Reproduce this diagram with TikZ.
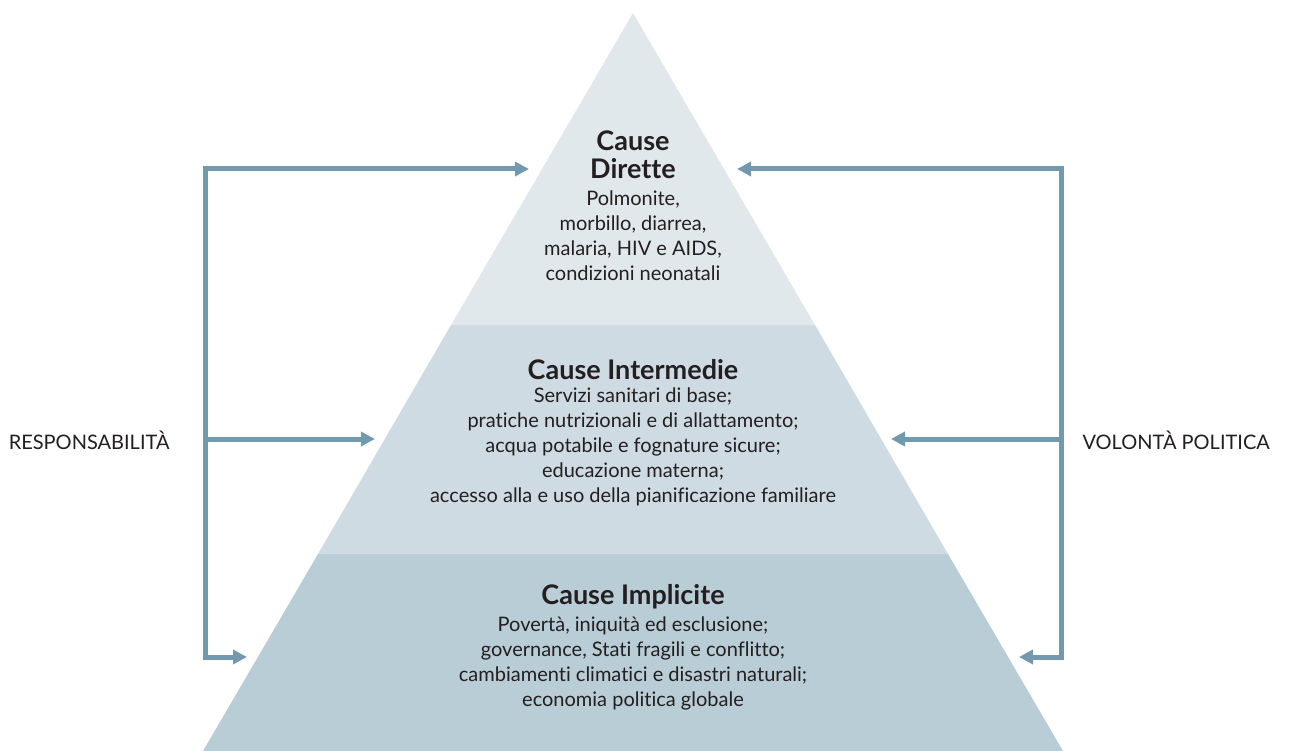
\documentclass[tikz,border=0pt]{standalone}
\usepackage{fontspec}
\setmainfont{Lato}[Ligatures=NoCommon]
\usepackage{tikz}
\usetikzlibrary{arrows.meta,positioning}
\usepackage{xcolor}
\definecolor{tiertop}{HTML}{E1E8EC}
\definecolor{tiermid}{HTML}{CEDBE2}
\definecolor{tierlow}{HTML}{B9CDD6}
\definecolor{linkblue}{HTML}{7399AE}
\definecolor{inkdark}{HTML}{231F20}

\begin{document}
\begin{tikzpicture}[x=1pt,y=-1pt,
  link/.style={-{Triangle[length=14pt,width=14pt]}, line width=5pt, linkblue, line join=miter},
  tiertitle/.style={align=center, text=inkdark, font=\fontsize{27}{28}\selectfont\bfseries},
  tierbody/.style={align=center, text=inkdark, font=\fontsize{20}{25}\selectfont},
  sidelabel/.style={text=inkdark, font=\fontsize{20}{22}\selectfont}]
  \useasboundingbox (0,0) rectangle (1293,751);
  % pyramid tiers
  \fill[tierlow] (203,751) -- (318,554) -- (948,554) -- (1063,751) -- cycle;
  \fill[tiermid] (318,554) -- (451,325) -- (815,325) -- (948,554) -- cycle;
  \fill[tiertop] (451,325) -- (633,13) -- (815,325) -- cycle;

  \node[tiertitle] (directtitle) at (633,155) {Cause\\Dirette};
  \node[tierbody] (directbody) at (633,236) {Polmonite,\\morbillo, diarrea,\\malaria, HIV e AIDS,\\condizioni neonatali};
  \node[tiertitle] (midtitle) at (633,370) {Cause Intermedie};
  \node[tierbody] (midbody) at (633,447) {Servizi sanitari di base;\\pratiche nutrizionali e di allattamento;\\acqua potabile e fognature sicure;\\educazione materna;\\accesso alla e uso della pianificazione familiare};
  \node[tiertitle] (lowtitle) at (633,597) {Cause Implicite};
  \node[tierbody] (lowbody) at (633,663) {Povertà, iniquità ed esclusione;\\governance, Stati fragili e conflitto;\\cambiamenti climatici e disastri naturali;\\economia politica globale};

  % side labels
  \node[sidelabel, anchor=east] (resp) at (173,440) {RESPONSABILITÀ};
  \node[sidelabel, anchor=west] (will) at (1079,440) {VOLONTÀ POLITICA};

  % left feedback arrows
  \coordinate (ltop) at (205,169);
  \coordinate (lmid) at (205,439);
  \coordinate (lbot) at (205,657);
  \coordinate (tipltop) at (529,169);
  \coordinate (tiplmid) at (375,439);
  \coordinate (tiplbot) at (247,657);
  \draw[link] (lmid) -- (ltop) -- (tipltop);
  \draw[link] (lmid) -- (lbot) -- (tiplbot);
  \draw[link] (lmid) -- (tiplmid);

  % right feedback arrows
  \coordinate (rtop) at (1061,169);
  \coordinate (rmid) at (1061,439);
  \coordinate (rbot) at (1061,657);
  \coordinate (tiprtop) at (737,169);
  \coordinate (tiprmid) at (891,439);
  \coordinate (tiprbot) at (1019,657);
  \draw[link] (rmid) -- (rtop) -- (tiprtop);
  \draw[link] (rmid) -- (rbot) -- (tiprbot);
  \draw[link] (rmid) -- (tiprmid);
\end{tikzpicture}
\end{document}
